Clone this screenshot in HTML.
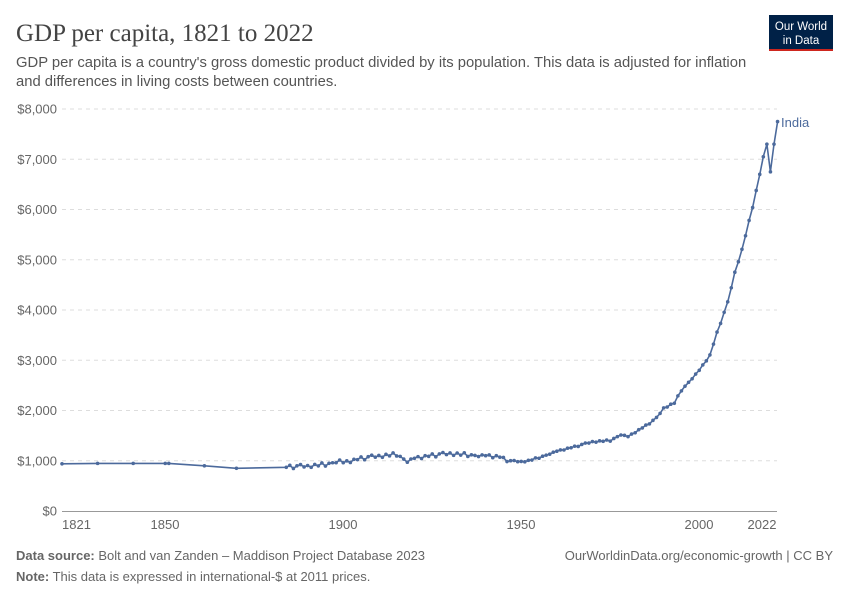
<!DOCTYPE html>
<html><head><meta charset="utf-8"><style>
body{margin:0;background:#fff;font-family:"Liberation Sans",sans-serif}
</style></head><body>
<svg id="s" width="850" height="600" xmlns="http://www.w3.org/2000/svg" font-family="Liberation Sans, sans-serif">
<text x="16" y="41" font-family="Liberation Serif, serif" font-size="25" fill="#444">GDP per capita, 1821 to 2022</text>
<text x="16" y="67" font-size="14.8" fill="#555">GDP per capita is a country's gross domestic product divided by its population. This data is adjusted for inflation</text>
<text x="16" y="86" font-size="14.8" fill="#555">and differences in living costs between countries.</text>
<rect x="769" y="15" width="64" height="36" fill="#002147"/>
<rect x="769" y="49" width="64" height="2" fill="#ce261e"/>
<text x="801" y="30" font-size="11.5" fill="#fff" text-anchor="middle">Our World</text>
<text x="801" y="44" font-size="11.5" fill="#fff" text-anchor="middle">in Data</text>
<g id="grid"></g>
<line x1="62" y1="511.5" x2="777" y2="511.5" stroke="#999"/>
<g font-size="13" fill="#666" text-anchor="middle">
<text x="62" y="529" text-anchor="start">1821</text><text x="165" y="529">1850</text><text x="343" y="529">1900</text><text x="521" y="529">1950</text><text x="699" y="529">2000</text><text x="762" y="529">2022</text>
</g>
<path id="line" fill="none" stroke="#4c6a9c" stroke-width="1.6"/>
<g id="dots" fill="#4c6a9c"></g>
<text x="781" y="127" font-size="13" fill="#4c6a9c">India</text>
<text x="16" y="560" font-size="13" fill="#666"><tspan font-weight="bold">Data source:</tspan> Bolt and van Zanden – Maddison Project Database 2023</text>
<text x="833" y="560" font-size="13" fill="#666" text-anchor="end">OurWorldinData.org/economic-growth | CC BY</text>
<text x="16" y="581" font-size="13" fill="#666"><tspan font-weight="bold">Note:</tspan> This data is expressed in international-$ at 2011 prices.</text>
</svg>
<script>
var ns="http://www.w3.org/2000/svg",s=document.getElementById('s');
var g=document.getElementById('grid');
function Y(v){return 511-v*0.05025}function X(y){return 62+(y-1821)*3.56}
for(var i=0;i<=8;i++){var y=Y(i*1000);
 if(i>0){var l=document.createElementNS(ns,'line');l.setAttribute('x1',62);l.setAttribute('x2',777);l.setAttribute('y1',y);l.setAttribute('y2',y);l.setAttribute('stroke','#ddd');l.setAttribute('stroke-dasharray','4,4');g.appendChild(l);}
 var t=document.createElementNS(ns,'text');t.setAttribute('x',57);t.setAttribute('y',y+4.5);t.setAttribute('text-anchor','end');t.setAttribute('font-size','13');t.setAttribute('fill','#666');t.textContent='$'+(i==0?'0':i+',000');g.appendChild(t);}
var key=[[1884,880],[1890,900],[1895,920],[1899,1000],[1900,960],[1905,1050],[1910,1100],[1915,1120],[1918,990],[1920,1050],[1925,1110],[1930,1150],[1935,1110],[1940,1100],[1944,1080],[1946,1000],[1950,985],[1952,1000],[1955,1060],[1960,1190],[1965,1280],[1970,1380],[1975,1400],[1978,1520],[1980,1480],[1985,1700],[1988,1850],[1990,2050],[1993,2150],[1995,2400],[2000,2800],[2003,3100],[2005,3550],[2008,4150],[2010,4750],[2012,5200],[2015,6050],[2017,6700],[2018,7050],[2019,7300],[2020,6750],[2021,7300],[2022,7750]];
var pts=[[1821,940],[1831,948],[1841,948],[1850,948],[1851,948],[1861,900],[1870,850]];
var noise=[0,20,-30,15,-10,25,-40,10,30,-20,5,-35,20,-15,40,-25,10,0,-20,15];
for(var yr=1884;yr<=2022;yr++){for(var k=0;k<key.length-1;k++){if(yr>=key[k][0]&&yr<=key[k+1][0])break;}
 var a=key[k],b=key[k+1],v=a[1]+(b[1]-a[1])*(yr-a[0])/(b[0]-a[0]);
 if(yr<1946)v+=noise[yr%20];else if(yr<2017)v+=noise[yr%20]*0.4;
 pts.push([yr,v]);}
var d='';for(var i=0;i<pts.length;i++){var x=X(pts[i][0]),y=Y(pts[i][1]);d+=(i?'L':'M')+x.toFixed(1)+','+y.toFixed(1);
 var c=document.createElementNS(ns,'circle');c.setAttribute('cx',x);c.setAttribute('cy',y);c.setAttribute('r',1.8);document.getElementById('dots').appendChild(c);}
document.getElementById('line').setAttribute('d',d);
</script>
</body></html>
